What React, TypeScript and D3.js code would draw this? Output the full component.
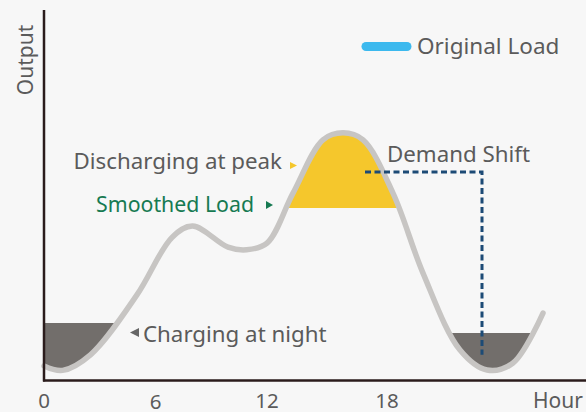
import React, { useRef, useEffect } from "react";
import * as d3 from "d3";

// load curve, hour of day vs output (0-100)
const hours = [
  0, 1.0, 2.5, 5.0, 6.9, 8.0, 9.9, 10.9, 12.0, 13.3, 14.8, 15.8, 16.8, 18.3,
  19.8, 21.65, 23.0, 24.3, 25.8,
];
const output = [
  3.8, 2.6, 6.8, 23.0, 38.6, 41.6, 35.9, 35.2, 37.0, 50.5, 64.9, 66.8, 64.9,
  50.5, 28.9, 8.1, 2.7, 4.6, 18.1,
];
const xTicks = [0, 6, 12, 18];
const xTickLabels = ["0", "6", "12", "18"];

// levels used for the shaded areas
const peakLevel = 46.5;
const nightLevel = 15.4;
const valleyLevel = 12.7;
// demand shift path (hour, output)
const shiftHours = [16.9, 22.75, 22.75];
const shiftOutput = [56.2, 56.2, 6.8];

const W = 586;
const H = 412;

const App = () => {
  const svgRef = useRef(null);

  useEffect(() => {
    document.body.style.margin = "0";
    document.body.style.background = "#f7f7f7";

    const svg = d3.select(svgRef.current);
    svg.selectAll("*").remove();
    const font = "'Noto Sans', sans-serif";
    const grey = "#5b5b5b";

    svg.append("rect").attr("width", W).attr("height", H).attr("fill", "#f7f7f7");

    // x spacing is not even in the original, so a polylinear scale
    const x = d3.scaleLinear().domain([0, 12, 18, 30]).range([44, 267, 387, 627]);
    const y = d3.scaleLinear().domain([0, 100]).range([380, 10]);

    const pts = hours.map((h, i) => [h, output[i]]);
    const curve = d3.curveCatmullRom.alpha(0.5);
    const line = d3
      .line()
      .x((d) => x(d[0]))
      .y((d) => y(d[1]))
      .curve(curve);

    const defs = svg.append("defs");
    const addClip = (id, x0, x1, y0, y1) =>
      defs
        .append("clipPath")
        .attr("id", id)
        .append("rect")
        .attr("x", x(x0))
        .attr("width", x(x1) - x(x0))
        .attr("y", y0)
        .attr("height", y1 - y0);

    addClip("clip-peak", 12.5, 19.5, 0, y(peakLevel));
    addClip("clip-night", 0, 5, y(nightLevel), 380);
    addClip("clip-valley", 20, 26.5, y(valleyLevel), 380);

    const band = (level) =>
      d3
        .area()
        .x((d) => x(d[0]))
        .y0(y(level))
        .y1((d) => y(d[1]))
        .curve(curve);

    svg
      .append("path")
      .attr("d", band(peakLevel)(pts))
      .attr("fill", "#f5c72c")
      .attr("clip-path", "url(#clip-peak)");
    svg
      .append("path")
      .attr("d", band(nightLevel)(pts))
      .attr("fill", "#726e6b")
      .attr("clip-path", "url(#clip-night)");
    svg
      .append("path")
      .attr("d", band(valleyLevel)(pts))
      .attr("fill", "#726e6b")
      .attr("clip-path", "url(#clip-valley)");

    // curve
    svg
      .append("path")
      .attr("d", line(pts))
      .attr("fill", "none")
      .attr("stroke", "#c7c5c3")
      .attr("stroke-width", 5.5)
      .attr("stroke-linecap", "round");

    // demand shift dashed line
    svg
      .append("path")
      .attr(
        "d",
        d3
          .line()
          .x((d) => x(d[0]))
          .y((d) => y(d[1]))(shiftHours.map((h, i) => [h, shiftOutput[i]]))
      )
      .attr("fill", "none")
      .attr("stroke", "#1d4b76")
      .attr("stroke-width", 3)
      .attr("stroke-dasharray", "6,3.5");

    // axes
    svg
      .append("line")
      .attr("x1", 44)
      .attr("x2", 44)
      .attr("y1", 10)
      .attr("y2", 381.5)
      .attr("stroke", "#2b1c1c")
      .attr("stroke-width", 2.5);
    svg
      .append("line")
      .attr("x1", 43)
      .attr("x2", W)
      .attr("y1", 380.5)
      .attr("y2", 380.5)
      .attr("stroke", "#2b1c1c")
      .attr("stroke-width", 2.5);

    svg
      .selectAll(".tick")
      .data(xTicks)
      .join("text")
      .attr("x", (d) => x(d))
      .attr("y", (d, i) => (i === 1 ? 408.5 : 407.5))
      .attr("text-anchor", "middle")
      .attr("font-family", font)
      .attr("font-size", 20.5)
      .attr("fill", grey)
      .text((d, i) => xTickLabels[i]);

    const label = (txt, lx, ly, anchor, color, size = 22.3) =>
      svg
        .append("text")
        .attr("x", lx)
        .attr("y", ly)
        .attr("text-anchor", anchor)
        .attr("font-family", font)
        .attr("font-size", size)
        .attr("fill", color)
        .text(txt);

    label("Hour", 533, 407.5, "start", grey, 21);
    svg
      .append("text")
      .attr("transform", "translate(33,60) rotate(-90)")
      .attr("text-anchor", "middle")
      .attr("font-family", font)
      .attr("font-size", 21)
      .attr("fill", grey)
      .text("Output");

    // legend
    svg
      .append("line")
      .attr("x1", 366)
      .attr("x2", 407)
      .attr("y1", 46.5)
      .attr("y2", 46.5)
      .attr("stroke", "#3cb9ee")
      .attr("stroke-width", 9)
      .attr("stroke-linecap", "round");
    label("Original Load", 417, 54, "start", grey, 22.5);

    // annotations
    label("Discharging at peak", 282, 169, "end", grey);
    svg
      .append("path")
      .attr("d", "M290,162L297,165.5L290,169Z")
      .attr("fill", "#f5c72c");
    label("Smoothed Load", 254, 212, "end", "#167a52", 21.3);
    svg
      .append("path")
      .attr("d", "M266,201L273,205L266,209Z")
      .attr("fill", "#167a52");
    label("Demand Shift", 387, 162, "start", grey);
    label("Charging at night", 143, 342, "start", grey);
    svg
      .append("path")
      .attr("d", "M139,328L130,332.5L139,337Z")
      .attr("fill", "#666");
  }, []);

  return (
    <svg
      ref={svgRef}
      width={W}
      height={H}
      style={{ position: "absolute", left: 0, top: 0, display: "block" }}
    ></svg>
  );
};

export default App;
